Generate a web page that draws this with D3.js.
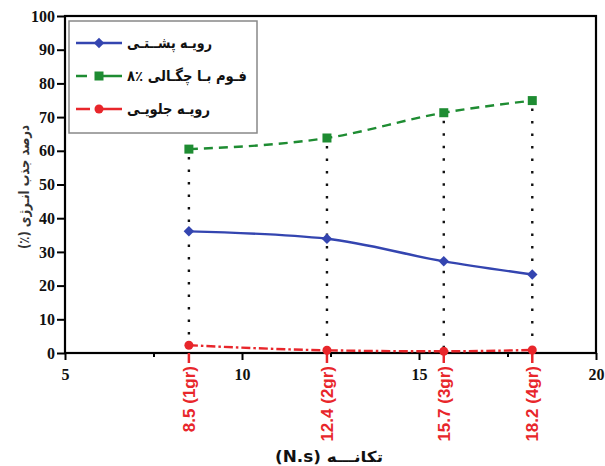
<!DOCTYPE html>
<html><head><meta charset="utf-8">
<script src="https://cdn.jsdelivr.net/npm/d3@7"></script>
<style>body{margin:0;background:#fff}svg{display:block}
.tk{font-family:"Liberation Serif","Times New Roman","DejaVu Serif",serif !important;font-weight:bold;font-size:16px}</style>
</head><body>
<svg id="c" width="605" height="466"></svg>
<script>
const xVals = [8.5, 12.4, 15.7, 18.2];
const xLabels = ["8.5 (1gr)", "12.4 (2gr)", "15.7 (3gr)", "18.2 (4gr)"];
const backFace = [36.1, 33.9, 27.2, 23.3];
const foam8 = [60.5, 63.8, 71.3, 74.9];
const frontFace = [2.3, 0.8, 0.5, 0.9];
const seriesNames = ["رویـه پشــتـی", "فـوم بـا چگـالی ٪٨", "رویـه جلویـی"];
const xTicks = [5, 10, 15, 20];
const xMinor = [7.5, 12.5, 17.5];
const yTicks = [0, 10, 20, 30, 40, 50, 60, 70, 80, 90, 100];
const yTitle = "درصد جذب انـرژی (٪)";
const xTitle = "تکانـــه (N.s)";

const svg = d3.select("#c");
const x = d3.scaleLinear().domain([5, 20]).range([65, 596]);
const y = d3.scaleLinear().domain([0, 100]).range([353, 16]);
const persian = "'DejaVu Sans',sans-serif";

// vertical dotted guides
const maxV = xVals.map((v, i) => Math.max(backFace[i], foam8[i], frontFace[i]));
svg.append("g").selectAll("line").data(xVals).join("line")
  .attr("x1", d => x(d)).attr("x2", d => x(d))
  .attr("y1", (d, i) => y(maxV[i]) + 8).attr("y2", y(0))
  .attr("stroke", "#111").attr("stroke-width", 2.4)
  .attr("stroke-dasharray", "2.5,10");

// axes
const xAxis = svg.append("g").attr("transform", `translate(0,${y(0)})`)
  .call(d3.axisBottom(x).tickValues(xTicks).tickSize(7).tickFormat(d3.format("d")));
const yAxis = svg.append("g").attr("transform", `translate(${x(5)},0)`)
  .call(d3.axisLeft(y).tickValues(yTicks).tickSize(8).tickFormat(d3.format("d")));
[xAxis, yAxis].forEach(g => {
  g.attr("font-family", null).attr("font-size", null);
  g.select(".domain").remove();
  g.selectAll(".tick line").attr("stroke", "#000").attr("stroke-width", 2);
  g.selectAll("text").attr("class", "tk").attr("fill", "#111");
});
xAxis.selectAll("text").attr("dy", "1.25em").attr("y", 7);
yAxis.selectAll("text").attr("x", -10);
svg.append("g").attr("transform", `translate(0,${y(0)})`)
  .call(d3.axisBottom(x).tickValues(xMinor).tickSize(4).tickFormat(""))
  .call(g => { g.select(".domain").remove(); g.selectAll("line").attr("stroke", "#000").attr("stroke-width", 2); });

// frame
svg.append("rect").attr("x", x(5)).attr("y", y(100))
  .attr("width", x(20) - x(5)).attr("height", y(0) - y(100))
  .attr("fill", "none").attr("stroke", "#000").attr("stroke-width", 2.2);

// red category ticks and labels
const red = "#e8262b";
svg.append("g").selectAll("line").data(xVals).join("line")
  .attr("x1", d => x(d)).attr("x2", d => x(d))
  .attr("y1", y(0)).attr("y2", y(0) + 10)
  .attr("stroke", red).attr("stroke-width", 2.5);
svg.append("g").selectAll("text").data(xVals).join("text")
  .attr("transform", d => `translate(${x(d)},${y(0) + 13}) rotate(-90)`)
  .attr("text-anchor", "end").attr("dy", "0.36em")
  .style("font-family", "'Liberation Sans',Arial,sans-serif").style("font-weight", "bold")
  .style("font-size", "17px").attr("fill", red)
  .text((d, i) => xLabels[i]);

// series
const line = d3.line().x(d => x(d[0])).y(d => y(d[1])).curve(d3.curveMonotoneX);
const blue = "#3445b0", green = "#1e8c32";
const series = [
  {vals: backFace, color: blue, dash: null, marker: "diamond"},
  {vals: foam8, color: green, dash: "9,6", marker: "square"},
  {vals: frontFace, color: red, dash: "9,3,2.5,3", marker: "circle"}
];
function marker(g, type, color, cx, cy) {
  if (type === "diamond") g.append("path").attr("d", d3.symbol(d3.symbolDiamond2, 70)()).attr("transform", `translate(${cx},${cy})`).attr("fill", color);
  else if (type === "square") g.append("rect").attr("x", cx - 4.5).attr("y", cy - 4.5).attr("width", 9).attr("height", 9).attr("fill", color);
  else g.append("circle").attr("cx", cx).attr("cy", cy).attr("r", 4.5).attr("fill", color);
}
series.forEach(s => {
  const pts = xVals.map((v, i) => [v, s.vals[i]]);
  svg.append("path").attr("d", line(pts)).attr("fill", "none")
    .attr("stroke", s.color).attr("stroke-width", 2.4)
    .attr("stroke-dasharray", s.dash);
  const g = svg.append("g");
  pts.forEach(p => marker(g, s.marker, s.color, x(p[0]), y(p[1])));
});

// legend
const lg = svg.append("g");
lg.append("rect").attr("x", 69).attr("y", 21).attr("width", 188).attr("height", 112)
  .attr("fill", "#fff").attr("stroke", "#888").attr("stroke-width", 1.5);
const legendW = [85, 120, 83];
series.forEach((s, i) => {
  const ly = 43 + i * 33;
  lg.append("line").attr("x1", 76).attr("x2", 122).attr("y1", ly).attr("y2", ly)
    .attr("stroke", s.color).attr("stroke-width", 2.4)
    .attr("stroke-dasharray", s.dash ? (i === 1 ? "11,12,23" : "14,10,30") : null);
  marker(lg, s.marker, s.color, 99, ly);
  lg.append("text").attr("x", 127 + legendW[i]).attr("y", ly).attr("dy", "0.3em")
    .style("direction", "rtl").attr("text-anchor", "start")
    .attr("textLength", legendW[i]).attr("lengthAdjust", "spacingAndGlyphs")
    .style("font-family", persian).style("font-weight", "bold")
    .style("font-size", "15px").attr("fill", "#111")
    .text(seriesNames[i]);
});

// titles
svg.append("text").attr("transform", `translate(24,187) rotate(-90)`)
  .style("direction", "rtl").attr("text-anchor", "middle").attr("dy", "0.35em")
  .attr("textLength", 124).attr("lengthAdjust", "spacingAndGlyphs")
  .style("font-family", persian).style("font-weight", "bold")
  .style("font-size", "14px").attr("fill", "#333").text(yTitle);
svg.append("text").attr("x", 329).attr("y", 462)
  .style("direction", "rtl").attr("text-anchor", "middle")
  .attr("textLength", 108).attr("lengthAdjust", "spacingAndGlyphs")
  .style("font-family", persian).style("font-weight", "bold")
  .style("font-size", "15px").attr("fill", "#111").text(xTitle);
</script>
</body></html>
